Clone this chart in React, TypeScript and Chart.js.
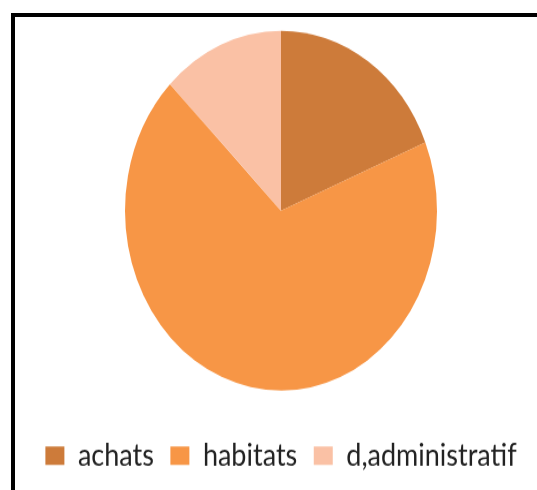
import React, { useEffect, useRef } from "react";
import { Chart, registerables } from "chart.js";

Chart.register(...registerables);

const categories = ["achats", "habitats", "d,administratif"];
const shares = [18.8, 68.6, 12.6];
const colors = ["#CD7B3A", "#F79646", "#FAC1A5"];

const W = 537;
const H = 425;
const STRETCH = 490 / H;

export default function App() {
  const ref = useRef<HTMLCanvasElement | null>(null);

  useEffect(() => {
    if (!ref.current) return;
    const chart = new Chart(ref.current, {
      type: "pie",
      data: {
        labels: categories,
        datasets: [
          {
            data: shares,
            backgroundColor: colors,
            borderWidth: 0,
          },
        ],
      },
      options: {
        responsive: false,
        animation: false,
        devicePixelRatio: 1,
        radius: 156,
        layout: { padding: { top: 0, left: 25, right: 0, bottom: 6.2 } },
        plugins: {
          tooltip: { enabled: false },
          legend: {
            position: "bottom",
            labels: {
              boxWidth: 19,
              boxHeight: 16,
              padding: 16.5,
              color: "#222",
              font: { family: "Lato", size: 27 },
            },
          },
        },
      } as any,
    });
    return () => chart.destroy();
  }, []);

  return (
    <div style={{ position: "fixed", left: 0, top: 0, width: 537, height: 490, overflow: "hidden", background: "#fff" }}>
      <div
        style={{
          position: "absolute",
          left: 11,
          top: 13,
          width: 700,
          height: 700,
          border: "4px solid #000",
          boxSizing: "border-box",
        }}
      />
      <div style={{ position: "absolute", left: 0, top: 0, transform: `scaleY(${STRETCH})`, transformOrigin: "0 0" }}>
        <canvas ref={ref} width={W} height={H} />
      </div>
    </div>
  );
}
